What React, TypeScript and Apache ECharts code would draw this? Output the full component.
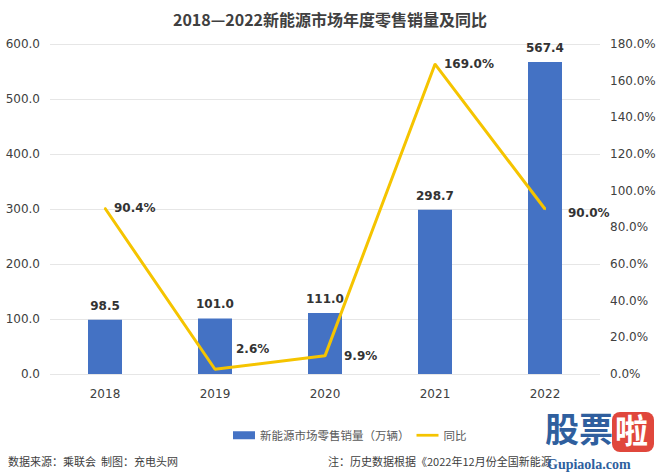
import React, { useEffect, useRef } from "react";
import * as echarts from "echarts";

const categories = ["2018", "2019", "2020", "2021", "2022"];
const sales = [98.5, 101.0, 111.0, 298.7, 567.4];
const yoy = [90.4, 2.6, 9.9, 169.0, 90.0];
const leftTicks = { min: 0, max: 600, interval: 100 };
const rightTicks = { min: 0, max: 180, interval: 20 };

const FONT = "'Noto Sans CJK SC', 'DejaVu Sans', sans-serif";

export default function App() {
  const ref = useRef<HTMLDivElement>(null);
  useEffect(() => {
    const chart = echarts.init(ref.current!, null, { renderer: "svg" });
    chart.setOption({
      animation: false,
      backgroundColor: "#ffffff",
      textStyle: { fontFamily: FONT },
      title: {
        text: "2018—2022新能源市场年度零售销量及同比",
        left: "center",
        top: 6,
        textStyle: { fontSize: 16, fontWeight: "bold", color: "#404040", fontFamily: FONT },
      },
      grid: { left: 50, right: 60, top: 44, bottom: 100 },
      legend: {
        bottom: 28,
        left: 228,
        itemGap: 7,
        itemWidth: 22,
        itemHeight: 8,
        textStyle: { fontSize: 11.5, color: "#595959", fontFamily: FONT },
        data: [
          { name: "新能源市场零售销量（万辆）", icon: "rect" },
          { name: "同比", icon: "path://M0 0 H24 V3 H0 Z", itemStyle: { color: "#f5c400", opacity: 1 } },
        ],
      },
      xAxis: {
        type: "category",
        data: categories,
        axisLine: { show: false },
        axisTick: { show: false },
        axisLabel: { fontSize: 12, color: "#404040", margin: 14, fontFamily: "'DejaVu Sans', sans-serif" },
      },
      yAxis: [
        {
          type: "value",
          ...leftTicks,
          axisLabel: {
            fontSize: 12,
            color: "#404040",
            margin: 10,
            fontFamily: "'DejaVu Sans', sans-serif",
            formatter: (v: number) => v.toFixed(1),
          },
          splitLine: { lineStyle: { color: "#e6e6e6" } },
          axisLine: { show: false },
          axisTick: { show: false },
        },
        {
          type: "value",
          ...rightTicks,
          position: "right",
          axisLabel: {
            fontSize: 12,
            color: "#404040",
            margin: 10,
            fontFamily: "'DejaVu Sans', sans-serif",
            formatter: (v: number) => v.toFixed(1) + "%",
          },
          splitLine: { show: false },
          axisLine: { show: false },
          axisTick: { show: false },
        },
      ],
      series: [
        {
          name: "新能源市场零售销量（万辆）",
          type: "bar",
          data: sales,
          barWidth: 34,
          itemStyle: { color: "#4472c4" },
          label: {
            show: true,
            position: "top",
            distance: 8,
            fontSize: 12,
            fontWeight: 600,
            color: "#333333",
            fontFamily: "'DejaVu Sans', sans-serif",
            formatter: (p: any) => Number(p.value).toFixed(1),
          },
        },
        {
          name: "同比",
          type: "line",
          yAxisIndex: 1,
          data: yoy.map((v, i) => ({
            value: v,
            label:
              i === 1
                ? { offset: [12, -20] }
                : i === 2
                ? { offset: [10, 0] }
                : i === 4
                ? { offset: [14, 4] }
                : {},
          })),
          symbol: "circle",
          symbolSize: 2,
          showSymbol: true,
          lineStyle: { color: "#f5c400", width: 3 },
          itemStyle: { color: "#f5c400" },
          label: {
            show: true,
            position: "right",
            distance: 8,
            fontSize: 12,
            fontWeight: 600,
            color: "#333333",
            fontFamily: "'DejaVu Sans', sans-serif",
            formatter: (p: any) => Number(p.value).toFixed(1) + "%",
          },
        },
      ],
      graphic: [
        {
          type: "text",
          left: 8,
          top: 455,
          style: { text: "数据来源：乘联会  制图：充电头网", fontSize: 11, fill: "#404040", fontFamily: FONT },
        },
        {
          type: "text",
          left: 328,
          top: 455,
          style: { text: "注：历史数据根据《2022年12月份全国新能源", fontSize: 11, fill: "#404040", fontFamily: FONT },
        },
        {
          type: "text",
          left: 545,
          top: 410,
          style: { text: "股票", fontSize: 34, fontWeight: "bold", fill: "#2f5f9e", fontFamily: FONT },
        },
        {
          type: "rect",
          left: 612,
          top: 412,
          shape: { width: 42, height: 40, r: 8 },
          style: { fill: "#e0473c" },
        },
        {
          type: "text",
          left: 615,
          top: 412,
          style: { text: "啦", fontSize: 33, fontWeight: "bold", fill: "#ffffff", fontFamily: FONT },
        },
        {
          type: "text",
          left: 547,
          top: 457,
          style: { text: "Gupiaola.com", fontSize: 14, fontWeight: "bold", fill: "#2f5f9e", fontFamily: "'Liberation Serif', serif" },
        },
      ],
    });
    return () => chart.dispose();
  }, []);
  return <div ref={ref} style={{ width: 660, height: 474, position: "absolute", left: 0, top: 0 }} />;
}
